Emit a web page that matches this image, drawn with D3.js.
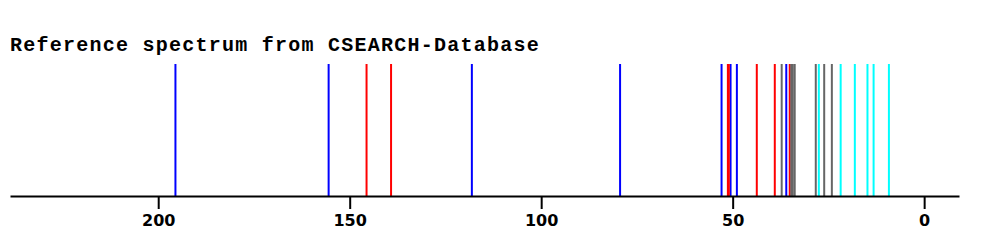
<!DOCTYPE html>
<html>
<head>
<meta charset="utf-8">
<script src="https://cdn.jsdelivr.net/npm/d3@7"></script>
<style>
  body { margin: 0; background: #fff; }
  .title { font-family: "Liberation Mono", "Courier New", monospace; font-weight: bold; font-size: 20px; letter-spacing: 1.25px; }
  .axis text { font-family: "DejaVu Sans", sans-serif; font-weight: bold; font-size: 16px; }
</style>
</head>
<body>
<svg id="chart" width="993" height="249"></svg>
<script>
// shift values (ppm) grouped by line colour
const blueShifts = [195.5, 155.5, 118.1, 79.4, 52.9, 50.55, 48.9, 36.0];
const redShifts = [145.6, 139.2, 51.25, 51.0, 43.7, 39.0, 35.1];
const grayShifts = [37.2, 34.7, 34.3, 33.8, 28.3, 26.1, 24.1];
const cyanShifts = [27.5, 21.8, 18.1, 14.8, 13.2, 9.2];
const tickValues = [200, 150, 100, 50, 0];

const groups = [
  { color: '#0000ff', shifts: blueShifts },
  { color: '#ff0000', shifts: redShifts },
  { color: '#666666', shifts: grayShifts },
  { color: '#00ffff', shifts: cyanShifts },
];

const svg = d3.select('#chart');

const x = d3.scaleLinear().domain([238.7, -9.1]).range([10, 959]);
const y = d3.scaleLinear().domain([0, 1]).range([196, 64]);

svg.append('text')
  .attr('class', 'title')
  .attr('x', 10)
  .attr('y', 50.5)
  .text('Reference spectrum from CSEARCH-Database');

const peaks = groups.flatMap((g) => g.shifts.map((s) => ({ shift: s, color: g.color })));

svg.append('g')
  .selectAll('line')
  .data(peaks)
  .enter()
  .append('line')
  .attr('x1', (d) => x(d.shift))
  .attr('x2', (d) => x(d.shift))
  .attr('y1', y(0))
  .attr('y2', y(1))
  .attr('stroke', (d) => d.color)
  .attr('stroke-width', 2);

const axis = svg.append('g')
  .attr('class', 'axis')
  .attr('transform', `translate(0,${y(0)})`)
  .call(d3.axisBottom(x).tickValues(tickValues).tickSizeInner(13).tickSizeOuter(0).tickPadding(6));

axis.select('.domain').attr('stroke', '#000').attr('stroke-width', 2);
axis.selectAll('.tick line').attr('stroke', '#000').attr('stroke-width', 2);
axis.selectAll('.tick text').attr('fill', '#000');
</script>
</body>
</html>
